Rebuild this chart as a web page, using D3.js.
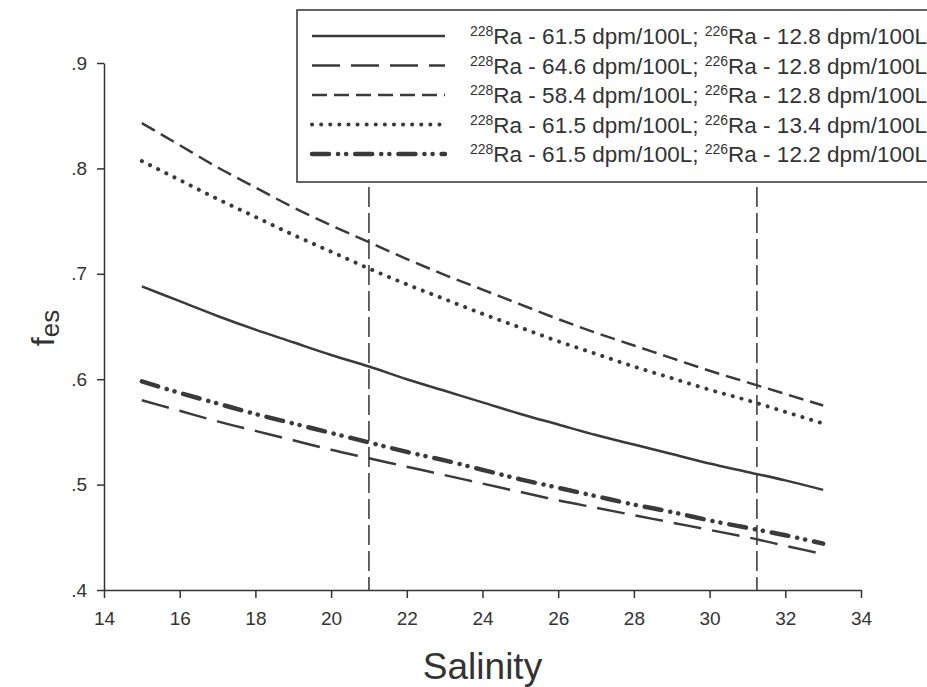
<!DOCTYPE html>
<html>
<head>
<script type="text/javascript" src="https://cdn.jsdelivr.net/npm/d3@7/dist/d3.min.js"></script>
<style type="text/css">
	body { margin: 0; background: #fff; }
	svg text { font-family: "Liberation Sans", Arial, sans-serif; fill: #333; }
	.axis path, .axis line { stroke: #333; stroke-width: 1.5px; }
	.axis text { font-size: 19px; }
</style>
</head>
<body>
<script type="text/javascript">
// salinity values where every curve was read
var salinity = [15, 16, 17, 18, 19, 20, 21, 22, 23, 24, 25, 26, 27, 28, 29, 30, 31, 32, 33];

// fes, one array per curve
var fesBase   = [.688, .674, .660, .647, .635, .623, .612, .600, .589, .578, .567, .557, .547, .538, .529, .520, .512, .504, .495];
var fesHigh228 = [.580, .570, .560, .551, .542, .533, .525, .517, .509, .501, .493, .485, .478, .471, .464, .457, .450, .442, .434];
var fesLow228  = [.843, .822, .801, .782, .763, .746, .730, .714, .699, .685, .671, .657, .644, .632, .620, .608, .597, .586, .575];
var fesHigh226 = [.807, .789, .771, .754, .737, .721, .705, .690, .676, .662, .649, .636, .624, .612, .601, .590, .580, .569, .558];
var fesLow226  = [.598, .587, .577, .567, .558, .549, .540, .531, .523, .514, .505, .497, .489, .481, .474, .466, .459, .452, .444];

var ra228 = ["61.5", "64.6", "58.4", "61.5", "61.5"];
var ra226 = ["12.8", "12.8", "12.8", "13.4", "12.2"];

var xTicks = [14, 16, 18, 20, 22, 24, 26, 28, 30, 32, 34];
var yTicks = [.4, .5, .6, .7, .8, .9];
var markers = [21, 31.25];   // vertical dashed lines

var series = [
	{ values: fesBase,    dash: null,                   width: 2.5, cap: "butt" },
	{ values: fesHigh228, dash: "28,11",                width: 2.5, cap: "butt" },
	{ values: fesLow228,  dash: "15,7",                 width: 2.5, cap: "butt" },
	{ values: fesHigh226, dash: "0.1,9",                width: 4,   cap: "round" },
	{ values: fesLow226,  dash: "17,9,0.1,8,0.1,9",     width: 4.5, cap: "round" }
];

var svg = d3.select("body").append("svg")
	.attr("width", 927)
	.attr("height", 687);

var x = d3.scaleLinear().domain([14, 34]).range([104, 861]);
var y = d3.scaleLinear().domain([.4, .9]).range([590, 63]);

// axes
svg.append("g")
	.attr("class", "axis")
	.attr("transform", "translate(0," + y(.4) + ")")
	.call(d3.axisBottom(x).tickValues(xTicks).tickSize(8).tickSizeOuter(0).tickPadding(14));

svg.append("g")
	.attr("class", "axis")
	.attr("transform", "translate(" + x(14) + ",0)")
	.call(d3.axisLeft(y).tickValues(yTicks).tickSize(7).tickSizeOuter(0).tickPadding(10)
		.tickFormat(function(d) { return "." + Math.round(d * 10); }));

// vertical markers
svg.selectAll(".marker")
	.data(markers)
	.enter()
	.append("line")
	.attr("class", "marker")
	.attr("x1", function(d) { return x(d); })
	.attr("x2", function(d) { return x(d); })
	.attr("y1", 187)
	.attr("y2", y(.4))
	.attr("stroke", "#333")
	.attr("stroke-width", 1.5)
	.attr("stroke-dasharray", "20,6");

// curves
var line = d3.line()
	.x(function(d, i) { return x(salinity[i]); })
	.y(function(d) { return y(d); })
	.curve(d3.curveMonotoneX);

svg.selectAll(".curve")
	.data(series)
	.enter()
	.append("path")
	.attr("class", "curve")
	.attr("d", function(d) { return line(d.values); })
	.attr("fill", "none")
	.attr("stroke", "#3a3a3a")
	.attr("stroke-width", function(d) { return d.width; })
	.attr("stroke-linecap", function(d) { return d.cap; })
	.attr("stroke-dasharray", function(d) { return d.dash; });

// axis titles
svg.append("text")
	.attr("x", (x(14) + x(34)) / 2)
	.attr("y", 679)
	.attr("text-anchor", "middle")
	.style("font-size", "37px")
	.text("Salinity");

var ylab = svg.append("text")
	.attr("transform", "translate(54,328) rotate(-90)")
	.attr("text-anchor", "middle")
	.style("font-size", "32px");
ylab.append("tspan").text("f");
ylab.append("tspan").attr("dy", 5).style("font-size", "26px").text("es");

// legend
var legend = svg.append("g");
legend.append("rect")
	.attr("x", 297)
	.attr("y", 10)
	.attr("width", 660)
	.attr("height", 172)
	.attr("fill", "#fff")
	.attr("stroke", "#333")
	.attr("stroke-width", 1.5);

var rows = legend.selectAll(".row")
	.data(series)
	.enter()
	.append("g")
	.attr("class", "row")
	.attr("transform", function(d, i) { return "translate(0," + (36 + i * 29.5) + ")"; });

rows.append("line")
	.attr("x1", 312)
	.attr("x2", 445)
	.attr("stroke", "#3a3a3a")
	.attr("stroke-width", function(d) { return d.width; })
	.attr("stroke-linecap", function(d) { return d.cap; })
	.attr("stroke-dasharray", function(d) { return d.dash; });

var label = rows.append("text")
	.attr("x", 470)
	.attr("y", 8)
	.style("font-size", "22.5px");
label.append("tspan").attr("dy", -8).style("font-size", "14px").text("228");
label.append("tspan").attr("dy", 8).text(function(d, i) { return "Ra - " + ra228[i] + " dpm/100L; "; });
label.append("tspan").attr("dy", -8).style("font-size", "14px").text("226");
label.append("tspan").attr("dy", 8).text(function(d, i) { return "Ra - " + ra226[i] + " dpm/100L"; });
</script>
</body>
</html>
